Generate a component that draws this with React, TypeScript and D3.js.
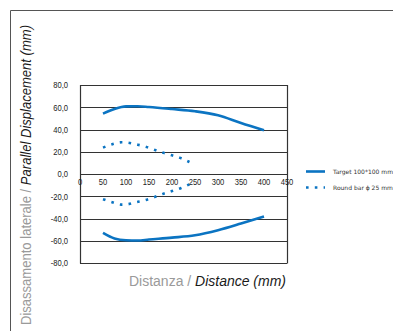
import { useEffect, useRef } from 'react';
import * as d3 from 'd3';

// Distance (mm)
const xTicks = [0, 50, 100, 150, 200, 250, 300, 350, 400, 450];
const yTicks = [80, 60, 40, 20, 0, -20, -40, -60, -80];

// Target 100*100 mm
const targetX = [50, 75, 100, 125, 150, 200, 250, 300, 350, 400];
const targetUpper = [54.3, 58.5, 60.8, 60.9, 60.2, 58.4, 56.4, 52.8, 45.8, 39.3];
const targetLower = [-53, -58, -59.6, -59.8, -58.9, -57.2, -55.1, -50.6, -44.6, -38.2];

// Round bar ϕ 25 mm
const roundX = [50, 70, 90, 102, 121, 140, 159, 178, 200, 220, 238];
const roundUpper = [23.7, 26.7, 28.5, 28.3, 26.7, 24.9, 22.2, 19.4, 16.8, 14.1, 10.8];
const roundLower = [-22.7, -25.4, -27.5, -27.3, -25.4, -23.7, -21.2, -18.2, -15.3, -12.6, -9.3];

const BLUE = '#0b74c2';
const FONT = "'Liberation Sans', Arial, sans-serif";
const SQUEEZE = 0.8; // no narrow font installed, squeeze glyphs horizontally

export default function App() {
    const svgRef = useRef<SVGSVGElement>(null);

    useEffect(() => {
        const svg = d3.select(svgRef.current);
        svg.selectAll('*').remove();

        const plot = { left: 80, right: 287, top: 85, bottom: 263 };

        const x = d3.scaleLinear().domain([0, 450]).range([plot.left, plot.right]);
        const y = d3.scaleLinear().domain([-80, 80]).range([plot.bottom, plot.top]);

        // outer frame
        svg.append('path')
            .attr('d', 'M10.5,340 L10.5,10.5 L400,10.5')
            .attr('fill', 'none')
            .attr('stroke', '#555')
            .attr('stroke-width', 1);

        // horizontal grid lines
        svg.append('g')
            .selectAll('line')
            .data(yTicks)
            .join('line')
            .attr('x1', plot.left)
            .attr('x2', plot.right)
            .attr('y1', d => Math.round(y(d)) + 0.5)
            .attr('y2', d => Math.round(y(d)) + 0.5)
            .attr('stroke', '#333')
            .attr('stroke-width', 1.2);

        // vertical borders
        [plot.left, plot.right].forEach(px => {
            svg.append('line')
                .attr('x1', px + 0.5).attr('x2', px + 0.5)
                .attr('y1', plot.top).attr('y2', Math.round(plot.bottom) + 0.5)
                .attr('stroke', '#333')
                .attr('stroke-width', 1.2);
        });

        // y tick labels
        svg.append('g')
            .selectAll('text')
            .data(yTicks)
            .join('text')
            .attr('transform', d => `translate(68,${y(d)}) scale(${SQUEEZE},1)`)
            .attr('dy', '0.35em')
            .attr('text-anchor', 'end')
            .attr('font-family', FONT)
            .attr('font-size', 9.5)
            .attr('fill', '#222')
            .text(d => d3.format('.1f')(d).replace('.', ',').replace('−', '-'));

        // x tick labels
        svg.append('g')
            .selectAll('text')
            .data(xTicks)
            .join('text')
            .attr('transform', d => `translate(${x(d)},${y(0) + 10.5}) scale(${SQUEEZE},1)`)
            .attr('text-anchor', 'middle')
            .attr('font-family', FONT)
            .attr('font-size', 9.5)
            .attr('fill', '#222')
            .text(d => d);

        const line = d3.line<[number, number]>()
            .x(d => x(d[0]))
            .y(d => y(d[1]))
            .curve(d3.curveMonotoneX);

        const series = [
            { xs: targetX, ys: targetUpper, dotted: false },
            { xs: targetX, ys: targetLower, dotted: false },
            { xs: roundX, ys: roundUpper, dotted: true },
            { xs: roundX, ys: roundLower, dotted: true },
        ];

        series.forEach(s => {
            svg.append('path')
                .attr('d', line(s.xs.map((v, i) => [v, s.ys[i]] as [number, number])))
                .attr('fill', 'none')
                .attr('stroke', BLUE)
                .attr('stroke-width', 2.6)
                .attr('stroke-dasharray', s.dotted ? '2.6,6.2' : null)
                .attr('stroke-linecap', 'butt');
        });

        // legend
        const legend = svg.append('g');
        legend.append('line')
            .attr('x1', 306).attr('x2', 325)
            .attr('y1', 171.5).attr('y2', 171.5)
            .attr('stroke', BLUE)
            .attr('stroke-width', 2.6);
        legend.append('line')
            .attr('x1', 306).attr('x2', 325)
            .attr('y1', 187.5).attr('y2', 187.5)
            .attr('stroke', BLUE)
            .attr('stroke-width', 2.6)
            .attr('stroke-dasharray', '2.6,6.2');
        legend.append('text')
            .attr('x', 333).attr('y', 173.5)
            .attr('font-family', "'DejaVu Sans', sans-serif")
            .attr('font-size', 6)
            .attr('fill', '#333')
            .text('Target 100*100 mm');
        legend.append('text')
            .attr('x', 333).attr('y', 189.5)
            .attr('font-family', "'DejaVu Sans', sans-serif")
            .attr('font-size', 6)
            .attr('fill', '#333')
            .text('Round bar ϕ 25 mm');

        // x axis title
        const xt = svg.append('text')
            .attr('x', 129)
            .attr('y', 286)
            .attr('textLength', 157)
            .attr('lengthAdjust', 'spacingAndGlyphs')
            .attr('font-family', FONT)
            .attr('font-size', 14);
        xt.append('tspan').attr('fill', '#9a9a9a').text('Distanza / ');
        xt.append('tspan').attr('fill', '#1a1a1a').attr('font-style', 'italic').text('Distance (mm)');

        // y axis title
        const yt = svg.append('text')
            .attr('transform', 'translate(31,325) rotate(-90)')
            .attr('textLength', 300)
            .attr('lengthAdjust', 'spacingAndGlyphs')
            .attr('font-family', FONT)
            .attr('font-size', 14);
        yt.append('tspan').attr('fill', '#9a9a9a').text('Disassamento laterale / ');
        yt.append('tspan').attr('fill', '#1a1a1a').attr('font-style', 'italic').text('Parallel Displacement (mm)');
    }, []);

    return (
        <svg
            ref={svgRef}
            width={393}
            height={331}
            style={{ position: 'absolute', left: 0, top: 0, background: '#fff' }}
        />
    );
}
